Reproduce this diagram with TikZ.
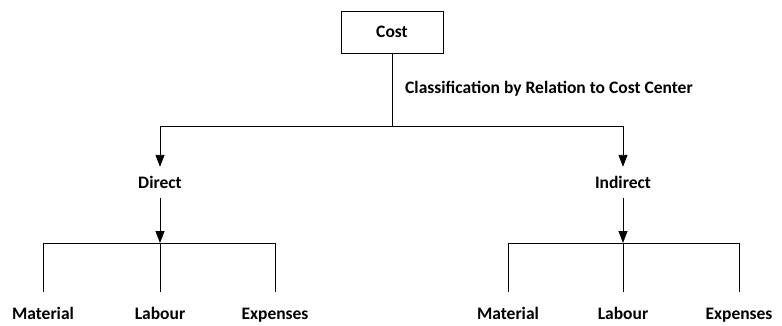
\documentclass[tikz,border=0pt]{standalone}
\usepackage{fontspec}
\setmainfont{Carlito}
\usetikzlibrary{arrows.meta}
\tikzset{
  lbl/.style={font=\fontsize{17.5}{20}\selectfont\bfseries, inner sep=0pt, text height=12pt, text depth=3.5pt, anchor=base},
  costbox/.style={draw, line width=0.9pt, minimum width=102pt, minimum height=42pt, inner sep=0pt, font=\fontsize{17.5}{20}\selectfont\bfseries},
  conn/.style={line width=0.9pt},
  arr/.style={conn, -{Triangle[length=12pt,width=9pt]}}
}
\begin{document}
\begin{tikzpicture}[x=1pt,y=-1pt]
\useasboundingbox (0,0) rectangle (782,325);
\node[costbox] (cost) at (392,32) {Cost};
\node[lbl, anchor=base west] (cls) at (405,93) {Classification by Relation to Cost Center};
\node[lbl] (direct) at (160,188.5) {Direct};
\node[lbl] (indirect) at (623,188.5) {Indirect};
\node[lbl] (dmat) at (43,319.5) {Material};
\node[lbl] (dlab) at (160,319.5) {Labour};
\node[lbl] (dexp) at (275,319.5) {Expenses};
\node[lbl] (imat) at (508,319.5) {Material};
\node[lbl] (ilab) at (623,319.5) {Labour};
\node[lbl] (iexp) at (739,319.5) {Expenses};
\coordinate (j0) at (392,126);
\coordinate (dj) at (160,243);
\coordinate (ij) at (623,243);
% top level
\draw[conn] (cost.south) -- (j0);
\draw[arr, shorten >=9.5pt] (j0) -| (direct.north);
\draw[arr, shorten >=9.5pt] (j0) -| (indirect.north);
% direct branch
\draw[arr, shorten <=6pt] (direct.south) -- (dj);
\draw[conn, shorten >=15.5pt] (dj) -| (dmat.north);
\draw[conn, shorten >=15.5pt] (dj) -- (dlab.north);
\draw[conn, shorten >=15.5pt] (dj) -| (dexp.north);
% indirect branch
\draw[arr, shorten <=6pt] (indirect.south) -- (ij);
\draw[conn, shorten >=15.5pt] (ij) -| (imat.north);
\draw[conn, shorten >=15.5pt] (ij) -- (ilab.north);
\draw[conn, shorten >=15.5pt] (ij) -| (iexp.north);
\end{tikzpicture}
\end{document}
